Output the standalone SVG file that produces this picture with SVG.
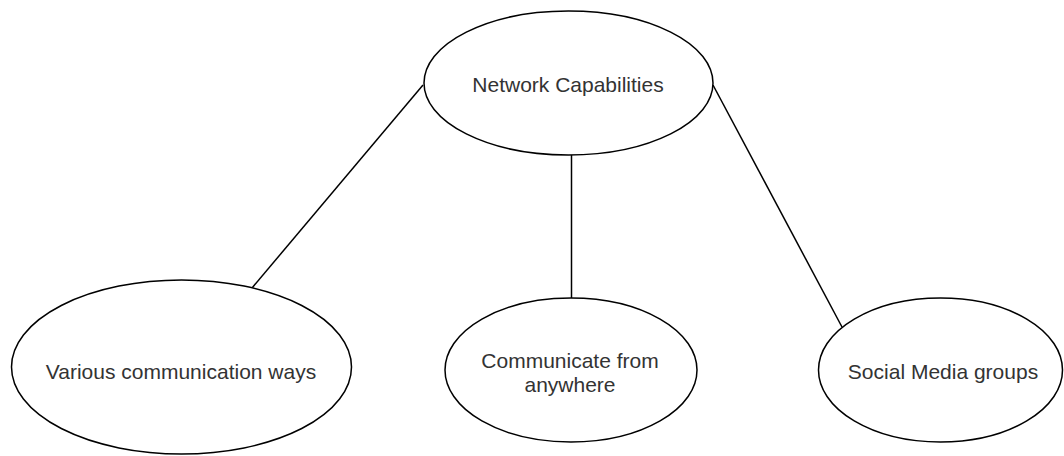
<svg xmlns="http://www.w3.org/2000/svg" width="1064" height="456" viewBox="0 0 1064 456">
<style>
.n{fill:#fff;stroke:#000;stroke-width:1.5}
.t{font-family:"Liberation Sans",Arial,sans-serif;font-size:21px;fill:#333;text-anchor:middle;dominant-baseline:central}
.c{stroke:#000;stroke-width:1.5;fill:none}
</style>
<rect width="1064" height="456" fill="#fff"/>
<g id="connectors">
<line class="c" x1="423" y1="85" x2="252" y2="288"/>
<line class="c" x1="571.5" y1="155" x2="571.5" y2="298"/>
<line class="c" x1="713" y1="85" x2="842" y2="327"/>
</g>
<g id="network-capabilities">
<ellipse class="n" cx="568.5" cy="83" rx="144.5" ry="72"/>
<text class="t" x="568" y="84">Network Capabilities</text>
</g>
<g id="various-communication-ways">
<ellipse class="n" cx="181.5" cy="367" rx="170" ry="87"/>
<text class="t" x="181" y="371">Various communication ways</text>
</g>
<g id="communicate-from-anywhere">
<ellipse class="n" cx="571" cy="370" rx="126" ry="72"/>
<text class="t" x="570" y="360">Communicate from</text>
<text class="t" x="570" y="384">anywhere</text>
</g>
<g id="social-media-groups">
<ellipse class="n" cx="940.5" cy="370" rx="122" ry="72"/>
<text class="t" x="943" y="371">Social Media groups</text>
</g>
</svg>
